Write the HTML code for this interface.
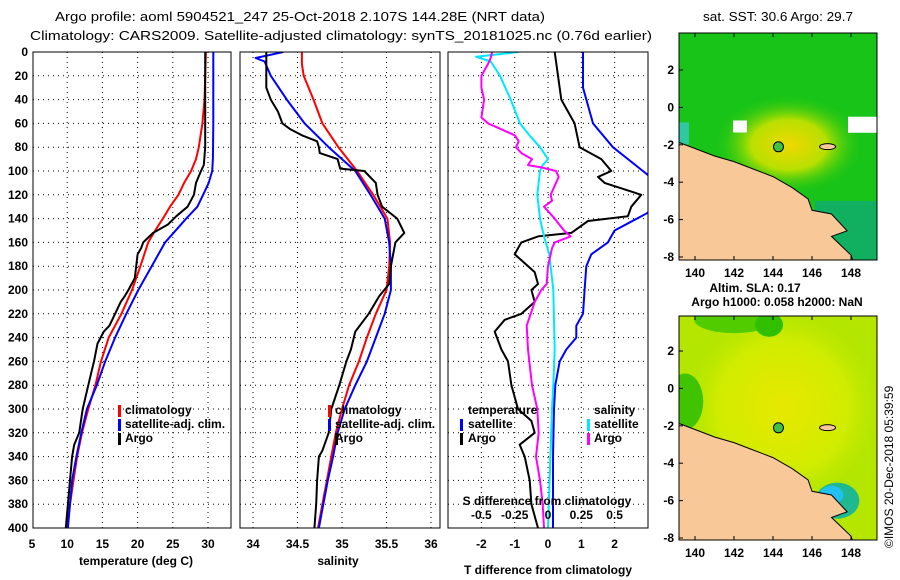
<!DOCTYPE html>
<html><head><meta charset="utf-8"><style>
html,body{margin:0;padding:0;background:#fff;}
svg{display:block;font-family:"Liberation Sans",sans-serif;}
.t{font-size:12px;font-weight:bold;fill:#000;}
.h{font-size:13px;fill:#000;}
.grid{stroke:#000;stroke-width:1;stroke-dasharray:1,4;}
</style></head><body>
<svg id="chart" width="900" height="580" viewBox="0 0 900 580">
<defs>
<clipPath id="c1"><rect x="33" y="52" width="198" height="476"/></clipPath>
<clipPath id="c2"><rect x="240" y="52" width="200" height="476"/></clipPath>
<clipPath id="c3"><rect x="448" y="52" width="200" height="476"/></clipPath>
<clipPath id="m1"><rect x="679" y="33" width="198" height="227"/></clipPath>
<clipPath id="m2"><rect x="679" y="316" width="198" height="224"/></clipPath>
<radialGradient id="sstg" cx="0.5" cy="0.5" r="0.5">
<stop offset="0" stop-color="#f0d800"/><stop offset="0.5" stop-color="#b8e000"/><stop offset="1" stop-color="#20c810" stop-opacity="0"/></radialGradient>
<radialGradient id="slag" cx="0.5" cy="0.5" r="0.5">
<stop offset="0" stop-color="#e8e800"/><stop offset="0.6" stop-color="#d0ec00"/><stop offset="1" stop-color="#a8e400" stop-opacity="0"/></radialGradient>
</defs>
<text class="h" x="300" y="21" text-anchor="middle" textLength="490" lengthAdjust="spacingAndGlyphs">Argo profile: aoml 5904521_247 25-Oct-2018 2.107S 144.28E (NRT data)</text>
<text class="h" x="341" y="40" text-anchor="middle" textLength="622" lengthAdjust="spacingAndGlyphs">Climatology: CARS2009. Satellite-adjusted climatology: synTS_20181025.nc (0.76d earlier)</text>
<text class="h" x="778" y="21" text-anchor="middle" textLength="150" lengthAdjust="spacingAndGlyphs">sat. SST: 30.6 Argo: 29.7</text>
<text class="t" x="755" y="292" text-anchor="middle">Altim. SLA: 0.17</text>
<text class="t" x="777" y="306" text-anchor="middle">Argo h1000: 0.058 h2000: NaN</text>
<text class="t" x="0" y="0" transform="translate(893,548) rotate(-90)" style="font-weight:normal">©IMOS 20-Dec-2018 05:39:59</text>
<g id="layer"></g>
</svg>
<script>
const depths=[0,20,40,60,80,100,120,140,160,180,200,220,240,260,280,300,320,340,360,380,400];
const tTicks=[5,10,15,20,25,30];
const climD=[0,20,40,60,80,90,100,110,120,130,140,150,160,180,200,220,240,260,280,300,320,340,360,380,400];
const climT=[29.7,29.6,29.5,29.2,28.7,28.3,27.6,26.6,25.8,24.6,23.6,22.5,21.5,20.4,19.2,17.7,15.9,14.8,14.0,13.0,12.1,11.4,10.9,10.4,10.0];
const satD=[0,20,40,60,90,100,110,120,130,140,160,180,200,220,240,260,280,300,320,340,360,380,400];
const satT=[30.75,30.75,30.75,30.75,30.7,30.6,30.1,29.3,28.5,26.9,23.9,22.0,20.1,18.4,16.8,15.4,14.2,12.8,12.0,11.3,10.7,10.4,10.1];
const argoD=[0,40,80,95,100,110,120,130,138,145,152,160,165,170,180,190,200,205,210,220,230,235,245,260,270,280,300,320,330,340,360,380,400];
const argoT=[29.6,29.6,29.6,29.4,29.0,28.3,28.0,27.1,25.5,24.3,22.2,20.8,20.5,20.0,19.8,19.6,18.7,18.2,17.6,16.8,16.0,15.2,14.3,13.8,13.4,13.0,12.2,11.7,11.0,10.7,10.4,10.1,9.8];
const sTicks=[34,34.5,35,35.5,36];
const sTickLab=["34","34.5","35","35.5","36"];
const climSD=[0,10,20,40,60,80,100,120,140,160,180,200,220,240,260,280,300,320,340,360,380,400];
const climS=[34.55,34.55,34.57,34.68,34.78,34.96,35.17,35.35,35.51,35.54,35.53,35.5,35.38,35.28,35.19,35.08,35.0,34.93,34.88,34.83,34.78,34.73];
const satSD=[0,5,8,20,40,60,80,100,120,140,160,180,200,220,240,260,280,300,320,340,360,380,400];
const satS=[34.34,34.03,34.13,34.2,34.38,34.58,34.85,35.15,35.32,35.48,35.53,35.55,35.55,35.48,35.38,35.28,35.15,35.03,34.95,34.9,34.84,34.79,34.74];
const argoSD=[0,30,40,50,60,65,70,75,80,85,90,98,100,110,120,130,140,152,160,180,195,205,220,235,250,260,280,300,320,335,340,360,380,400];
const argoS=[34.15,34.15,34.2,34.28,34.33,34.42,34.55,34.72,34.74,34.75,34.95,34.98,35.25,35.38,35.4,35.45,35.62,35.7,35.6,35.55,35.53,35.42,35.3,35.15,35.1,35.05,34.97,34.88,34.85,34.78,34.74,34.72,34.71,34.69];
const dTicks=[-2,-1,0,1,2];
const sdTicks=[-0.5,-0.25,0,0.25,0.5];
const sdTickLab=["-0.5","-0.25","0","0.25","0.5"];
const tSatDD=[0,30,60,80,100,110,135,150,160,170,180,200,220,230,240,250,260,280,300,340,400];
const tSatD=[1.05,1.05,1.35,1.95,2.85,3.3,3.0,2.0,1.8,1.3,1.15,1.1,1.05,0.85,0.85,0.55,0.35,0.22,0.18,0.15,0.15];
const tArgoDD=[0,20,40,60,80,90,100,105,110,120,130,138,142,152,155,160,165,170,175,185,195,200,210,220,225,235,250,260,280,300,310,320,330,340,360,380,400];
const tArgoD=[0.2,0.3,0.4,0.8,0.95,1.6,1.9,1.5,1.7,2.8,2.5,2.4,1.2,0.7,-0.3,-0.8,-0.9,-1.0,-0.8,-0.4,-0.3,-0.5,-0.4,-0.8,-1.3,-1.6,-1.4,-1.2,-1.1,-0.9,-0.5,-0.4,-0.85,-0.7,-0.55,-0.5,-0.3];
const sSatDD=[0,4,8,20,40,60,70,80,90,95,100,120,140,155,170,200,250,280,300,400];
const sSatD=[-0.22,-0.54,-0.43,-0.36,-0.28,-0.21,-0.14,-0.06,0,-0.04,-0.06,-0.08,-0.06,-0.03,0.01,0.04,0.05,0.04,0.03,0.0];
const sArgoDD=[0,5,10,20,30,40,55,60,65,70,75,80,85,90,95,97,100,105,110,120,125,130,140,150,155,160,165,180,195,200,210,230,250,280,300,320,340,360,380,400];
const sArgoD=[-0.42,-0.43,-0.45,-0.5,-0.5,-0.48,-0.5,-0.45,-0.35,-0.25,-0.22,-0.24,-0.2,-0.12,-0.15,-0.05,0.06,0.08,0.06,0.02,0.03,-0.03,0.05,0.12,0.17,0.05,0.03,0.0,-0.01,-0.05,-0.1,-0.16,-0.15,-0.12,-0.08,-0.07,-0.09,-0.06,-0.04,-0.03];
const lonTicks=[140,142,144,146,148];
const latTicks=[2,0,-2,-4,-6,-8];
const argoLon=144.28, argoLat=-2.107;

const NS="http://www.w3.org/2000/svg";
const L=document.getElementById('layer');
function mk(tag,attrs,parent){const e=document.createElementNS(NS,tag);for(const k in attrs)e.setAttribute(k,attrs[k]);(parent||L).appendChild(e);return e;}
const yD=d=>52+d*(476/400);
const xT=t=>32+(t-5)*7.04;
const xS=s=>253+(s-34)*89;
const xTD=t=>548+t*33.3;
const xSD=s=>548+s*133.2;
function txt(x,y,s,anchor,name,parent){const e=mk('text',{x:x,y:y,'text-anchor':anchor||'middle','class':'t'},parent);e.textContent=s;


return e;}
function panel(x0,w,name){
 const g=mk('g',{});
 
 
 depths.forEach(d=>{if(d>0&&d<400){const l=mk('line',{x1:x0,x2:x0+w,y1:yD(d),y2:yD(d),'class':'grid'},g);
 
 }});
 return g;}
function vgrid(g,x){const l=mk('line',{x1:x,x2:x,y1:52,y2:528,'class':'grid'},g);
 
 }
function frame(x0,w,name){const r=mk('rect',{x:x0,y:52,width:w,height:476,fill:'none',stroke:'#000','stroke-width':1});
 
 }
function line(ds,vs,fx,color,clip,name,wid){
 const pts=ds.map((d,i)=>fx(vs[i]).toFixed(1)+','+yD(d).toFixed(1)).join(' ');
 const p=mk('polyline',{points:pts,fill:'none',stroke:color,'stroke-width':wid||2,'clip-path':'url(#'+clip+')','stroke-linejoin':'round'});
 
 }
function legTick(x,y,color){const r=mk('rect',{x:x,y:y-10,width:3,height:12,fill:color});
 
 }

depths.forEach(d=>txt(28,yD(d)+4,String(d),'end','depth-tick-label'));
let g1=panel(33,198,'temperature-panel');
tTicks.forEach(t=>{if(t>5)vgrid(g1,xT(t));txt(xT(t),548,String(t),'middle','temperature-tick-label');});
line(climD,climT,xT,'#ff0000','c1','temperature-climatology-line');
line(satD,satT,xT,'#0000ff','c1','temperature-satellite-line');
line(argoD,argoT,xT,'#000000','c1','temperature-argo-line');
frame(33,198,'temperature-frame');
txt(136,565,'temperature (deg C)','middle','temperature-axis-title');
legTick(118,415,'#ff0000');txt(125,414,'climatology','start','legend-climatology');
legTick(118,429,'#0000ff');txt(125,428,'satellite-adj. clim.','start','legend-satellite');
legTick(118,443,'#000000');txt(125,442,'Argo','start','legend-argo');
let g2=panel(240,200,'salinity-panel');
sTicks.forEach((s,i)=>{vgrid(g2,xS(s));txt(xS(s),548,sTickLab[i],'middle','salinity-tick-label');});
line(climSD,climS,xS,'#ff0000','c2','salinity-climatology-line');
line(satSD,satS,xS,'#0000ff','c2','salinity-satellite-line');
line(argoSD,argoS,xS,'#000000','c2','salinity-argo-line');
frame(240,200,'salinity-frame');
txt(338,565,'salinity','middle','salinity-axis-title');
legTick(328,415,'#ff0000');txt(335,414,'climatology','start','legend-climatology-2');
legTick(328,429,'#0000ff');txt(335,428,'satellite-adj. clim.','start','legend-satellite-2');
legTick(335,443,'#000000');txt(335,442,'Argo','start','legend-argo-2');
let g3=panel(448,200,'difference-panel');
dTicks.forEach(t=>{vgrid(g3,xTD(t));txt(xTD(t),548,String(t),'middle','t-difference-tick-label');});
line(tSatDD,tSatD,xTD,'#0000ff','c3','t-diff-satellite-line');
line(tArgoDD,tArgoD,xTD,'#000000','c3','t-diff-argo-line');
line(sSatDD,sSatD,xSD,'#00e8ff','c3','s-diff-satellite-line');
line(sArgoDD,sArgoD,xSD,'#ff00ff','c3','s-diff-argo-line');
frame(448,200,'difference-frame');
txt(548,574,'T difference from climatology','middle','t-difference-axis-title');
txt(547,505,'S difference from climatology','middle','s-difference-axis-title');
sdTicks.forEach((s,i)=>txt(xSD(s),519,sdTickLab[i],'middle','s-difference-tick-label'));
txt(468,414,'temperature','start','legend-temperature-header');
legTick(460,429,'#0000ff');txt(468,428,'satellite','start','legend-t-satellite');
legTick(460,443,'#000000');txt(468,442,'Argo','start','legend-t-argo');
txt(594,414,'salinity','start','legend-salinity-header');
legTick(587,429,'#00e8ff');txt(594,428,'satellite','start','legend-s-satellite');
legTick(587,443,'#ff00ff');txt(594,442,'Argo','start','legend-s-argo');

function map(top,lat2y,clip,fillId,name,isSst){
 const xL=lon=>695+(lon-140)*19.5;
 const yL=lat=>lat2y+(2-lat)*18.7;
 const g=mk('g',{'clip-path':'url(#'+clip+')'});
 
 
 mk('rect',{x:679,y:top,width:198,height:230,fill:isSst?'#18c418':'#b4e600'},g);
 if(isSst){
  mk('ellipse',{cx:xL(144.8),cy:yL(-2),rx:75,ry:50,fill:'url(#'+fillId+')'},g);
  mk('rect',{x:733,y:yL(-0.7),width:14,height:12,fill:'#fff'},g);
  mk('rect',{x:848,y:yL(-0.5),width:29,height:16,fill:'#fff'},g);
  mk('rect',{x:815,y:yL(-5),width:62,height:80,fill:'#10b060'},g);
  mk('rect',{x:679,y:yL(-0.8),width:10,height:22,fill:'#30c8a0'},g);
 } else {
  mk('ellipse',{cx:xL(144.5),cy:yL(-1),rx:110,ry:110,fill:'url(#'+fillId+')'},g);
  mk('ellipse',{cx:xL(142),cy:yL(3.7),rx:40,ry:14,fill:'#50cc00'},g);
  mk('ellipse',{cx:xL(143.8),cy:yL(3.4),rx:14,ry:12,fill:'#30c000'},g);
  mk('ellipse',{cx:xL(139.5),cy:yL(-0.7),rx:18,ry:28,fill:'#40c400'},g);
  mk('ellipse',{cx:xL(147.3),cy:yL(-6),rx:22,ry:18,fill:'#20b890'},g);
  mk('ellipse',{cx:xL(147),cy:yL(-5.7),rx:12,ry:9,fill:'#20c0f0'},g);
 }
 const coast=[[139,-1.8],[140,-2.2],[141,-2.6],[142,-2.9],[143,-3.3],[144,-3.7],[145,-4.3],[145.8,-4.9],[146,-5.5],[147,-5.7],[147.8,-6.6],[147,-6.9],[148,-7.9],[148.2,-8.5],[139,-8.5]];
 const p=mk('polygon',{points:coast.map(c=>xL(c[0]).toFixed(1)+','+yL(c[1]).toFixed(1)).join(' '),fill:'#f8c898',stroke:'#000','stroke-width':1},g);
 
 
 const isl=mk('ellipse',{cx:xL(146.8),cy:yL(-2.1),rx:8,ry:3,fill:'#f8c898',stroke:'#000'},g);
 
 
 const dot=mk('circle',{cx:xL(argoLon),cy:yL(argoLat),r:5,fill:'#40c040',stroke:'#000'},g);
 
 
 const fr=mk('rect',{x:679,y:top,width:198,height:(clip=='m1'?227:224),fill:'none',stroke:'#000'});
 
 
 const bottom=top+(clip=='m1'?227:224);
 lonTicks.forEach(l=>{mk('line',{x1:xL(l),x2:xL(l),y1:bottom,y2:bottom-4,stroke:'#000'});
  mk('line',{x1:xL(l),x2:xL(l),y1:top,y2:top+4,stroke:'#000'});
  txt(xL(l),bottom+17,String(l),'middle','longitude-tick-label');});
 latTicks.forEach(l=>{mk('line',{x1:679,x2:683,y1:yL(l),y2:yL(l),stroke:'#000'});
  txt(674,yL(l)+4,String(l),'end','latitude-tick-label');});
}
map(33,70,'m1','sstg','sst-map',true);
map(316,351,'m2','slag','sla-map',false);
</script>
</body></html>
